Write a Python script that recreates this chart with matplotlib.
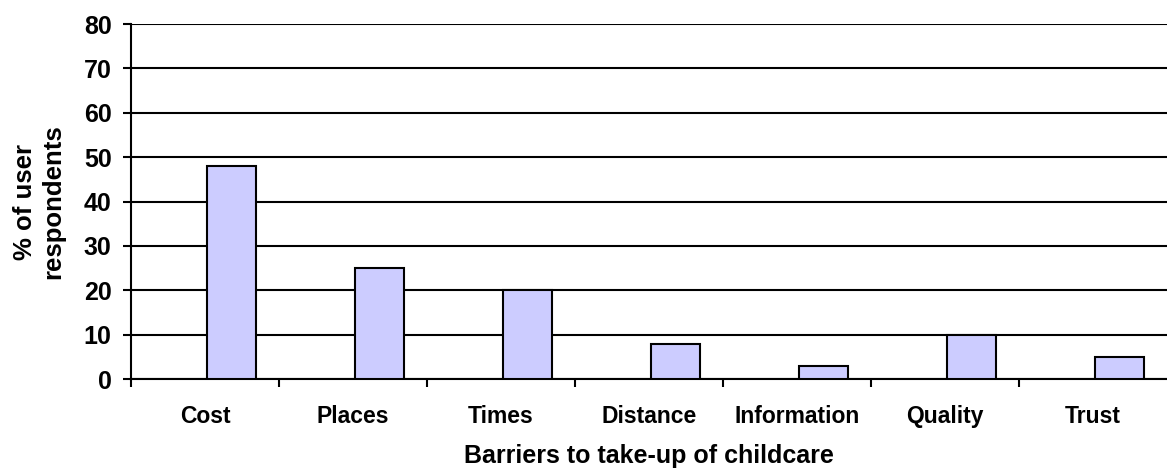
import matplotlib.pyplot as plt
import numpy as np

plt.rcParams['font.family'] = ['Liberation Sans', 'DejaVu Sans']
plt.rcParams['font.weight'] = 'bold'

categories = ["Cost", "Places", "Times", "Distance", "Information", "Quality", "Trust"]
values = [48, 25, 20, 8, 3, 10, 5]

fig = plt.figure(figsize=(11.67, 4.70), dpi=100)
ax = fig.add_axes([0.1123, 0.1936, 0.8877, 0.7553])

x = np.arange(len(categories))
ax.bar(x + 0.013, values, width=0.33, align='edge', color='#CCCCFF',
       edgecolor='black', linewidth=1.5, zorder=3)

ax.set_xlim(-0.5, len(categories) - 0.5)
ax.set_ylim(0, 80)
ax.set_yticks(range(0, 81, 10))
ax.yaxis.grid(True, color='black', linewidth=1.5, zorder=0)
ax.set_axisbelow(True)

# category labels centred, ticks at boundaries
ax.set_xticks(x)
ax.set_xticklabels(categories, fontsize=16.5, fontweight='bold')
ax.tick_params(axis='x', length=0, pad=19)
ax.set_xticks(np.arange(-0.5, len(categories) - 0.5, 1), minor=True)
ax.tick_params(axis='x', which='minor', length=6, width=1.5, direction='out')
ax.tick_params(axis='y', length=6, width=1.5, labelsize=18, pad=8)
for lbl in ax.get_yticklabels():
    lbl.set_fontweight('bold')

for side in ['top', 'right']:
    ax.spines[side].set_visible(False)
ax.spines['left'].set_linewidth(1.5)
ax.spines['bottom'].set_linewidth(1.5)

ax.set_xlabel("Barriers to take-up of childcare", fontsize=18, fontweight='bold', labelpad=11)
ax.set_ylabel("% of user\nrespondents", fontsize=18.5, fontweight='bold')
ax.yaxis.set_label_coords(-0.064, 0.5)

plt.savefig("out.png", dpi=100)
